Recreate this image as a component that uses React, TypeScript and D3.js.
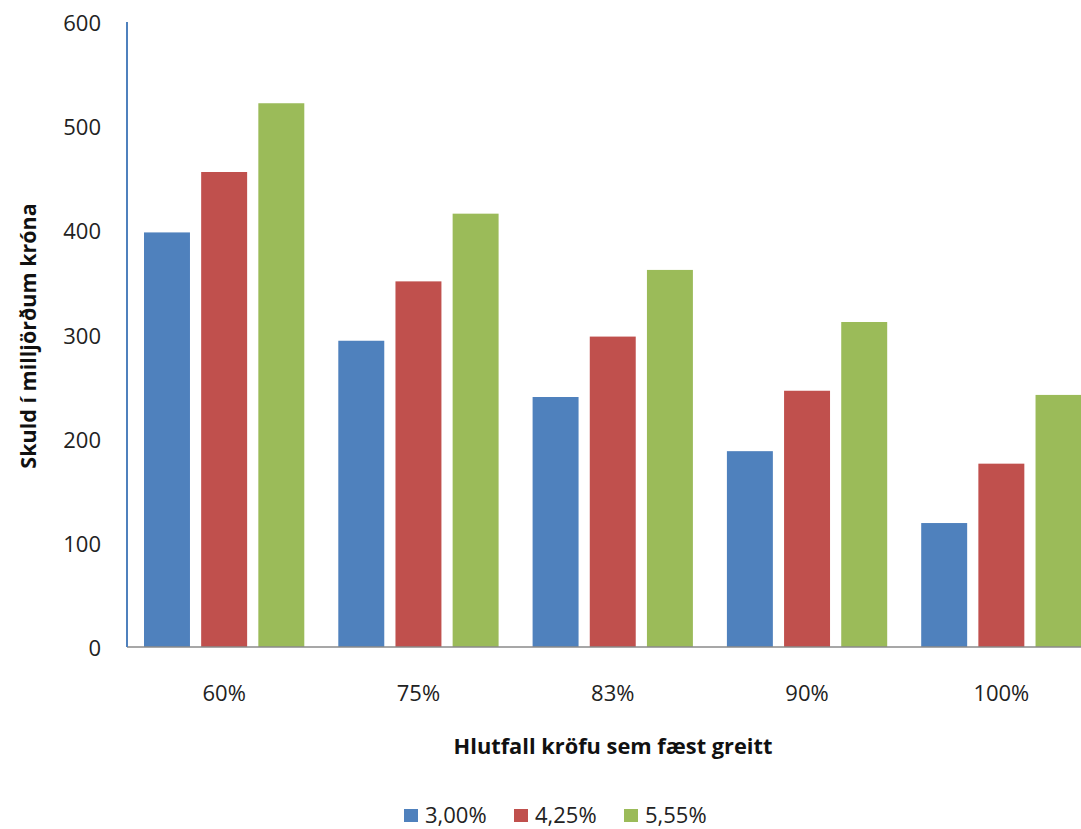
import React from "react";
import * as d3 from "d3";

const categories = ["60%", "75%", "83%", "90%", "100%"];
const seriesNames = ["3,00%", "4,25%", "5,55%"];
const series300 = [398, 294, 240, 188, 119];
const series425 = [456, 351, 298, 246, 176];
const series555 = [522, 416, 362, 312, 242];
const yTicks = [0, 100, 200, 300, 400, 500, 600];
const colors = ["#4F81BD", "#C0504D", "#9BBB59"];

const W = 1081;
const H = 829;
const FONT = "'Open Sans', sans-serif";

export default function App() {
  const seriesValues = [series300, series425, series555];
  const x0 = d3
    .scaleBand<string>()
    .domain(categories)
    .range([127, 1098.5])
    .paddingInner(0.175)
    .paddingOuter(0.0875);
  const x1 = d3
    .scaleBand<string>()
    .domain(seriesNames)
    .range([0, x0.bandwidth()])
    .paddingInner(0.196);
  const y = d3.scaleLinear().domain([0, 600]).range([647, 22]);

  const legendX = [403, 513, 623];

  return (
    <svg
      width={W}
      height={H}
      style={{ position: "absolute", left: 0, top: 0, background: "#fff" }}
      fontFamily={FONT}
    >
      <rect x={0} y={0} width={W} height={H} fill="#fff" />
      {categories.map((c, ci) => (
        <g key={c}>
          {seriesNames.map((s, si) => {
            const v = seriesValues[si][ci];
            return (
              <rect
                key={s}
                x={(x0(c) as number) + (x1(s) as number)}
                y={y(v)}
                width={x1.bandwidth()}
                height={y(0) - y(v)}
                fill={colors[si]}
              />
            );
          })}
          <text
            x={(x0(c) as number) + x0.bandwidth() / 2}
            y={692}
            textAnchor="middle"
            dominantBaseline="central"
            fontSize={22}
            fill="#222"
          >
            {c}
          </text>
        </g>
      ))}
      <line x1={127} x2={W} y1={y(0)} y2={y(0)} stroke="#8a8a8a" strokeWidth={1.5} />
      <line x1={127} x2={127} y1={y(600)} y2={y(0)} stroke="#4F81BD" strokeWidth={2} />
      {yTicks.map((t) => (
        <text
          key={t}
          x={101}
          y={y(t)}
          textAnchor="end"
          dominantBaseline="central"
          fontSize={22}
          fill="#222"
        >
          {t}
        </text>
      ))}
      <text
        transform={`translate(27,336) rotate(-90)`}
        textAnchor="middle"
        dominantBaseline="central"
        fontSize={21.5}
        fontWeight="bold"
        fill="#111"
      >
        Skuld í milljörðum króna
      </text>
      <text
        x={613}
        y={745}
        textAnchor="middle"
        dominantBaseline="central"
        fontSize={21.8}
        fontWeight="bold"
        fill="#111"
      >
        Hlutfall kröfu sem fæst greitt
      </text>
      {seriesNames.map((s, i) => (
        <g key={s}>
          <rect x={legendX[i] + 1} y={809} width={14} height={13} fill={colors[i]} />
          <text
            x={legendX[i] + 22}
            y={814}
            dominantBaseline="central"
            fontSize={22}
            fill="#222"
          >
            {s}
          </text>
        </g>
      ))}
    </svg>
  );
}
